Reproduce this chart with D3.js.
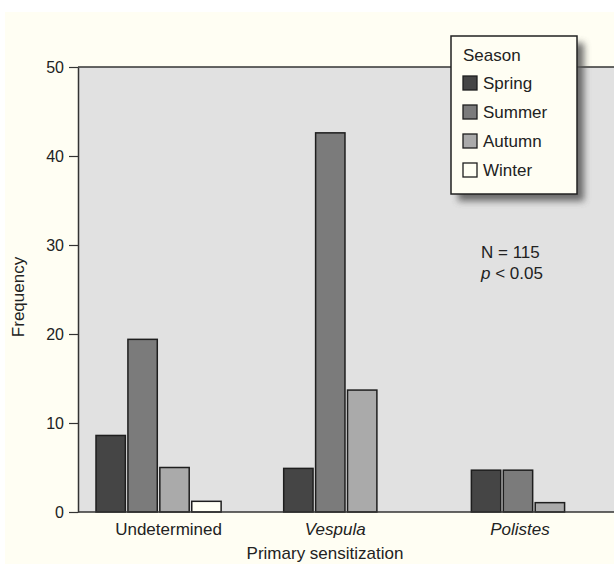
<!DOCTYPE html>
<html><head><meta charset="utf-8">
<script src="https://cdn.jsdelivr.net/npm/d3@7"></script>
<style>
html,body{margin:0;padding:0;background:#ffffff;}
svg{display:block;}
text{font-family:"Liberation Sans",Arial,sans-serif;fill:#222;}
</style></head>
<body>
<script>
const categories = ["Undetermined", "Vespula", "Polistes"];
const italicCats = ["Vespula", "Polistes"];
const seasons = ["Spring", "Summer", "Autumn", "Winter"];
const spring = [8.6, 4.9, 4.7];
const summer = [19.4, 42.6, 4.7];
const autumn = [5.0, 13.7, 1.05];
const winter = [1.2, 0, 0];
const yTicks = [0, 10, 20, 30, 40, 50];
const annotation = ["N = 115", "p < 0.05"];

const seriesBySeason = {Spring: spring, Summer: summer, Autumn: autumn, Winter: winter};
const colors = {Spring: "#454545", Summer: "#7b7b7b", Autumn: "#aaaaaa", Winter: "#fffff4"};

const W = 614, H = 564;
const FS = 17;
const svg = d3.select("body").append("svg").attr("width", W).attr("height", H);
const defs = svg.append("defs");
const f = defs.append("filter").attr("id", "shadow").attr("x", "-20%").attr("y", "-20%").attr("width", "150%").attr("height", "150%");
f.append("feGaussianBlur").attr("stdDeviation", 3.5);

// page background
svg.append("rect").attr("x", 5).attr("y", 12).attr("width", W - 5).attr("height", H - 12).attr("fill", "#fffef3");

const plot = {left: 78, top: 67, right: 620, bottom: 512};

const y = d3.scaleLinear().domain([0, 50]).range([plot.bottom, plot.top]);
const x0 = d3.scaleBand().domain(categories).range([96, 596.5]).paddingInner(1/3).paddingOuter(0);
const x1 = d3.scaleBand().domain(seasons).range([0, x0.bandwidth()]).paddingInner(0.08).paddingOuter(0);

// plot background
svg.append("rect").attr("x", plot.left).attr("y", plot.top)
  .attr("width", plot.right - plot.left).attr("height", plot.bottom - plot.top)
  .attr("fill", "#e1e1e1");
svg.append("line").attr("x1", plot.left).attr("x2", plot.right).attr("y1", plot.top).attr("y2", plot.top)
  .attr("stroke", "#333").attr("stroke-width", 1.5);

// bars
const rows = [];
categories.forEach((c, i) => seasons.forEach(s => {
  const v = seriesBySeason[s][i];
  if (v > 0) rows.push({c, s, v});
}));
svg.append("g").selectAll("rect").data(rows).join("rect")
  .attr("x", d => x0(d.c) + x1(d.s))
  .attr("y", d => y(d.v))
  .attr("width", x1.bandwidth())
  .attr("height", d => y(0) - y(d.v))
  .attr("fill", d => colors[d.s])
  .attr("stroke", "#1e1e1e").attr("stroke-width", 1.5);

// y axis
const yAxis = svg.append("g").attr("transform", `translate(${plot.left},0)`)
  .call(d3.axisLeft(y).tickValues(yTicks).tickSize(9).tickPadding(5).tickSizeOuter(0));
yAxis.select(".domain").attr("stroke", "#333").attr("stroke-width", 1.5);
yAxis.selectAll(".tick line").attr("stroke", "#333").attr("stroke-width", 1.2);
yAxis.selectAll(".tick text").attr("font-size", 16).attr("font-family", "Liberation Sans, Arial, sans-serif").attr("fill", "#222");

// x axis line
svg.append("line").attr("x1", plot.left).attr("x2", plot.right).attr("y1", plot.bottom).attr("y2", plot.bottom)
  .attr("stroke", "#333").attr("stroke-width", 1.5);

// x category labels
const labelShift = [10, -11, -14];
svg.append("g").selectAll("text").data(categories).join("text")
  .attr("x", (d, i) => x0(d) + x0.bandwidth() / 2 + labelShift[i])
  .attr("y", 535)
  .attr("text-anchor", "middle")
  .attr("font-size", FS)
  .attr("font-style", d => italicCats.includes(d) ? "italic" : "normal")
  .text(d => d);

// axis titles
svg.append("text").attr("x", 325).attr("y", 559).attr("text-anchor", "middle").attr("font-size", FS)
  .text("Primary sensitization");
svg.append("text").attr("transform", "translate(24,297) rotate(-90)").attr("text-anchor", "middle").attr("font-size", FS)
  .text("Frequency");

// annotation
const ann = svg.append("text").attr("x", 481).attr("y", 258).attr("font-size", FS);
ann.text(annotation[0]);
const ann2 = svg.append("text").attr("x", 481).attr("y", 279).attr("font-size", FS);
const pm = annotation[1].split(" ");
ann2.append("tspan").attr("font-style", "italic").text(pm[0]);
ann2.append("tspan").text(" " + pm.slice(1).join(" "));

// legend
const lg = svg.append("g").attr("transform", "translate(451,36)");
lg.append("rect").attr("x", 7).attr("y", 7).attr("width", 126).attr("height", 158)
  .attr("fill", "#555").attr("opacity", 0.85).attr("filter", "url(#shadow)");
lg.append("rect").attr("width", 126).attr("height", 158).attr("fill", "#fffef3")
  .attr("stroke", "#222").attr("stroke-width", 1.5);
lg.append("text").attr("x", 12).attr("y", 25).attr("font-size", FS).text("Season");
const items = lg.selectAll("g.item").data(seasons).join("g").attr("class", "item")
  .attr("transform", (d, i) => `translate(12,${40 + i * 29})`);
items.append("rect").attr("width", 14).attr("height", 14).attr("fill", d => colors[d])
  .attr("stroke", "#1e1e1e").attr("stroke-width", 1.3);
items.append("text").attr("x", 20).attr("y", 13).attr("font-size", FS).text(d => d);
</script>
</body></html>
